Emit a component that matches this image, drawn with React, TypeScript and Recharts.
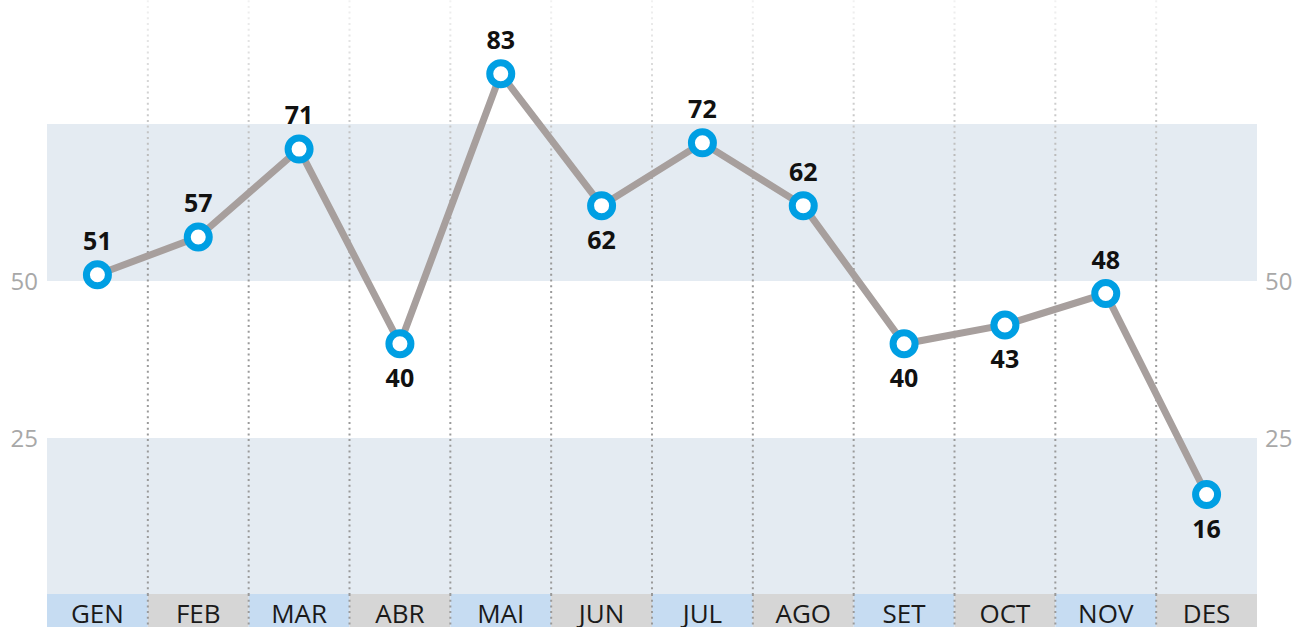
import React from 'react'
import {
  ComposedChart,
  Line,
  XAxis,
  YAxis,
  ReferenceArea,
  ReferenceLine,
  LabelList,
} from 'recharts'

const months = ['GEN', 'FEB', 'MAR', 'ABR', 'MAI', 'JUN', 'JUL', 'AGO', 'SET', 'OCT', 'NOV', 'DES']
const values = [51, 57, 71, 40, 83, 62, 72, 62, 40, 43, 48, 16]
const yTicks = [25, 50]
const shadedBands = [
  [0, 25],
  [50, 75],
]
// months whose value label sits under the point
const labelsBelow = ['ABR', 'JUN', 'SET', 'OCT', 'DES']

const data = months.map((month, i) => ({ month, value: values[i] }))

const FONT = "'Open Sans', sans-serif"
const W = 1308
const LEFT = 47
const RIGHT = 51
const BAND = (W - LEFT - RIGHT) / months.length
const DOTS = '2 3.7'

function MonthTick(props: any) {
  const { x, y, payload, index } = props
  const left = x - BAND / 2
  return (
    <g>
      <rect x={left} y={y - 1} width={BAND} height={40} fill={index % 2 === 0 ? '#c6dcf2' : '#d6d6d6'} />
      {index > 0 && (
        <line x1={left} x2={left} y1={y - 1} y2={y + 40} stroke="#9a9a9a" strokeWidth={2} strokeDasharray={DOTS} />
      )}
      <text x={x} y={y + 28} textAnchor="middle" fill="#1a1a1a" fontFamily={FONT} fontSize={26}>
        {payload.value}
      </text>
    </g>
  )
}

function ValueLabel(props: any) {
  const { x, y, value, index } = props
  const below = labelsBelow.includes(months[index])
  return (
    <text
      x={x}
      y={below ? y + 34 : y - 34}
      dy="0.36em"
      textAnchor="middle"
      fill="#111"
      fontFamily={FONT}
      fontWeight={700}
      fontSize={25}
    >
      {value}
    </text>
  )
}

export default function App() {
  return (
    <div style={{ position: 'absolute', top: 0, left: 0, width: W, height: 627, overflow: 'hidden', background: '#fff' }}>
      <svg width={0} height={0} style={{ position: 'absolute' }}>
        <defs>
          <linearGradient id="gridFade" gradientUnits="userSpaceOnUse" x1={0} y1={33} x2={0} y2={283}>
            <stop offset="0%" stopColor="#f2f2f2" />
            <stop offset="100%" stopColor="#9a9a9a" />
          </linearGradient>
        </defs>
      </svg>
      <div style={{ marginTop: -33 }}>
        <ComposedChart width={W} height={668} data={data} margin={{ top: 0, right: 0, bottom: 0, left: 0 }}>
          {shadedBands.map(([a, b]) => (
            <ReferenceArea key={a} yAxisId="left" y1={a} y2={b} fill="#e4ebf2" fillOpacity={1} stroke="none" />
          ))}
          {months.slice(1).map((m) => (
            <ReferenceLine
              key={m}
              yAxisId="left"
              x={m}
              position="start"
              stroke="url(#gridFade)"
              strokeWidth={2}
              strokeDasharray={DOTS}
            />
          ))}
          <XAxis
            dataKey="month"
            scale="band"
            height={40}
            axisLine={false}
            tickLine={false}
            tickSize={0}
            tickMargin={0}
            interval={0}
            tick={<MonthTick />}
          />
          <YAxis
            yAxisId="left"
            width={LEFT}
            domain={[0, 100]}
            ticks={yTicks}
            axisLine={false}
            tickLine={false}
            tickSize={0}
            tickMargin={9}
            tick={{ fill: '#a8a8a8', fontSize: 24, fontFamily: FONT }}
          />
          <YAxis
            yAxisId="right"
            orientation="right"
            width={RIGHT}
            domain={[0, 100]}
            ticks={yTicks}
            axisLine={false}
            tickLine={false}
            tickSize={0}
            tickMargin={8}
            tick={{ fill: '#a8a8a8', fontSize: 24, fontFamily: FONT, textAnchor: 'start' }}
          />
          <Line
            yAxisId="right"
            dataKey="value"
            stroke="none"
            dot={false}
            activeDot={false}
            legendType="none"
            isAnimationActive={false}
          />
          <Line
            yAxisId="left"
            dataKey="value"
            stroke="#a79f9d"
            strokeWidth={7}
            isAnimationActive={false}
            dot={{ r: 11, fill: '#fff', stroke: '#009fe3', strokeWidth: 7 }}
            activeDot={false}
          >
            <LabelList dataKey="value" content={<ValueLabel />} />
          </Line>
        </ComposedChart>
      </div>
    </div>
  )
}
